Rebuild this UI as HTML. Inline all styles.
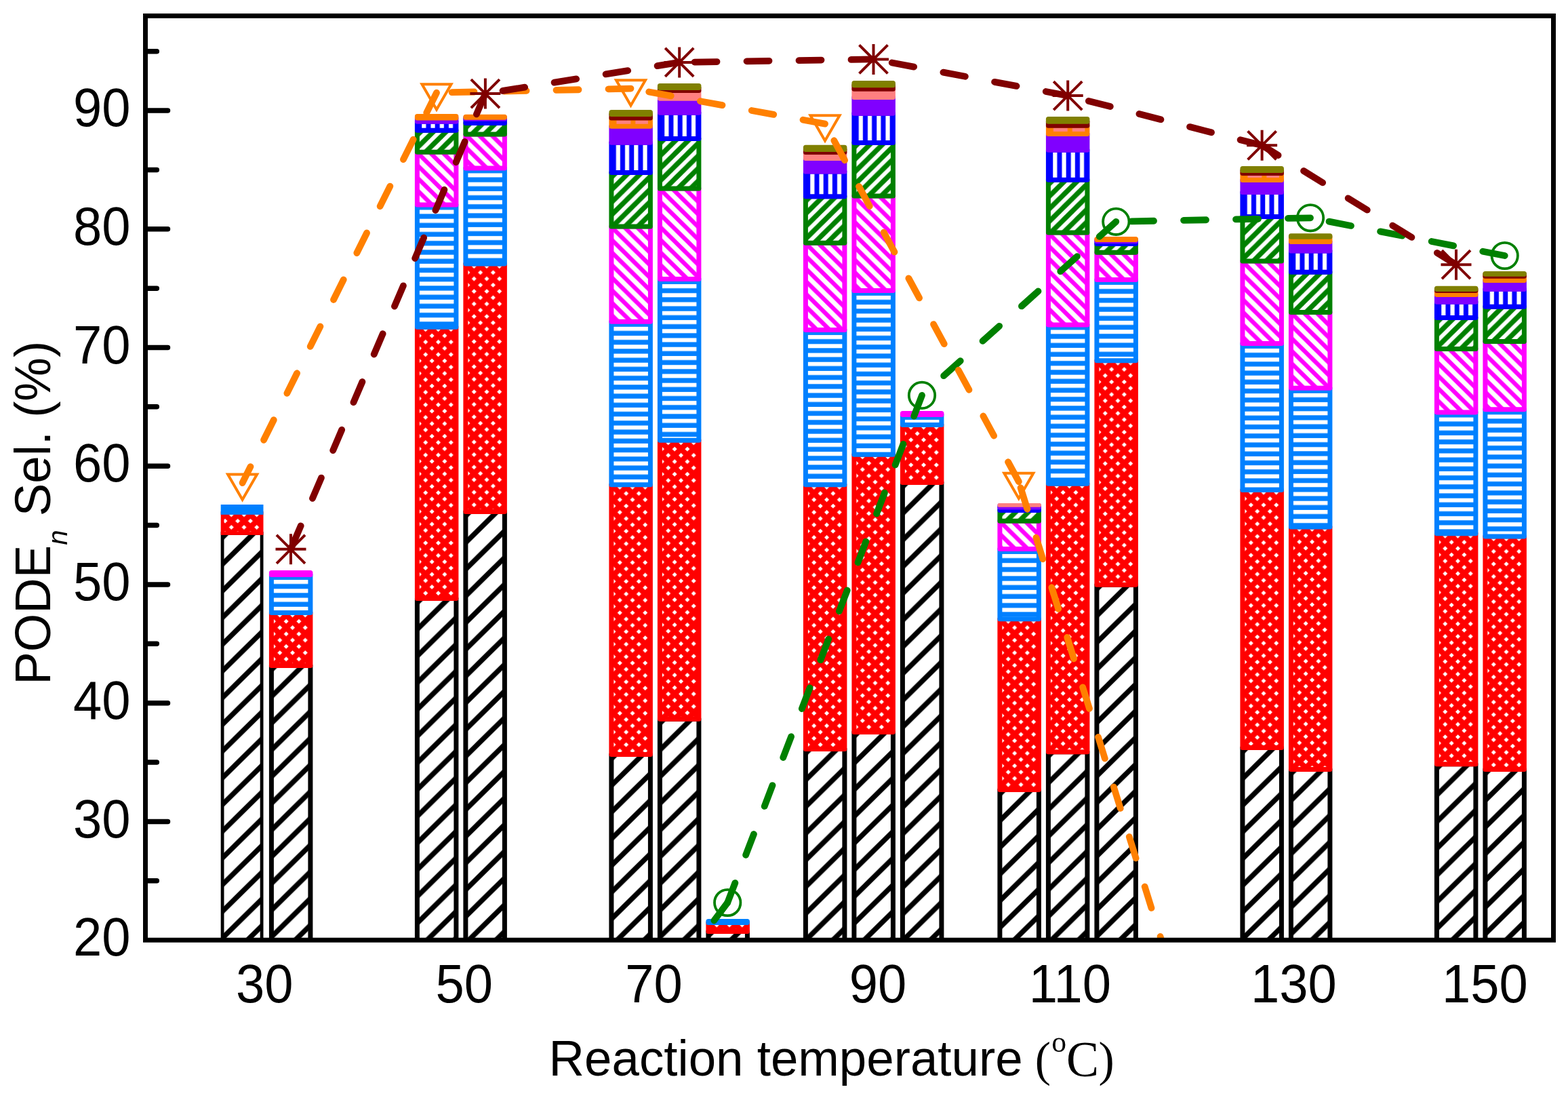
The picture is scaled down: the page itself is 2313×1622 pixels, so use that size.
<!DOCTYPE html>
<html lang="en">
<head>
<meta charset="utf-8">
<title>PODEn selectivity vs reaction temperature</title>
<style>
html,body{margin:0;padding:0;background:#fff}
svg{display:block}
</style>
</head>
<body>
<svg width="2313" height="1622" viewBox="0 0 2313 1622">
<rect width="2313" height="1622" fill="#fff"/>
<defs>
<pattern id="pblack" patternUnits="userSpaceOnUse" width="40" height="39.38"><rect width="40" height="39.38" fill="#fff"/><line x1="6.4" y1="-39.38" x2="-113.6" y2="78.76" stroke="#000000" stroke-width="7.5"/><line x1="46.4" y1="-39.38" x2="-73.6" y2="78.76" stroke="#000000" stroke-width="7.5"/><line x1="86.4" y1="-39.38" x2="-33.6" y2="78.76" stroke="#000000" stroke-width="7.5"/><line x1="126.4" y1="-39.38" x2="6.4" y2="78.76" stroke="#000000" stroke-width="7.5"/></pattern>
<pattern id="pred" patternUnits="userSpaceOnUse" width="18.73" height="18.52"><rect width="18.73" height="18.52" fill="#fff"/><line x1="6.65" y1="-18.52" x2="-49.54" y2="37.04" stroke="#FF0000" stroke-width="8.2"/><line x1="25.38" y1="-18.52" x2="-30.81" y2="37.04" stroke="#FF0000" stroke-width="8.2"/><line x1="44.11" y1="-18.52" x2="-12.08" y2="37.04" stroke="#FF0000" stroke-width="8.2"/><line x1="62.84" y1="-18.52" x2="6.65" y2="37.04" stroke="#FF0000" stroke-width="8.2"/><line x1="-38.02" y1="-18.52" x2="18.17" y2="37.04" stroke="#FF0000" stroke-width="8.2"/><line x1="-19.29" y1="-18.52" x2="36.9" y2="37.04" stroke="#FF0000" stroke-width="8.2"/><line x1="-0.56" y1="-18.52" x2="55.63" y2="37.04" stroke="#FF0000" stroke-width="8.2"/><line x1="18.17" y1="-18.52" x2="74.36" y2="37.04" stroke="#FF0000" stroke-width="8.2"/></pattern>
<pattern id="plblue" patternUnits="userSpaceOnUse" width="13.24" height="13.24"><rect width="13.24" height="13.24" fill="#fff"/><rect x="0" y="-12.94" width="13.24" height="7.2" fill="#0080FF"/><rect x="0" y="0.3" width="13.24" height="7.2" fill="#0080FF"/><rect x="0" y="13.54" width="13.24" height="7.2" fill="#0080FF"/></pattern>
<pattern id="pmagenta" patternUnits="userSpaceOnUse" width="18.73" height="18.52"><rect width="18.73" height="18.52" fill="#fff"/><line x1="-38.02" y1="-18.52" x2="18.17" y2="37.04" stroke="#FF00FF" stroke-width="6.3"/><line x1="-19.29" y1="-18.52" x2="36.9" y2="37.04" stroke="#FF00FF" stroke-width="6.3"/><line x1="-0.56" y1="-18.52" x2="55.63" y2="37.04" stroke="#FF00FF" stroke-width="6.3"/><line x1="18.17" y1="-18.52" x2="74.36" y2="37.04" stroke="#FF00FF" stroke-width="6.3"/></pattern>
<pattern id="pgreen" patternUnits="userSpaceOnUse" width="18.73" height="18.52"><rect width="18.73" height="18.52" fill="#fff"/><line x1="7.12" y1="-18.52" x2="-49.07" y2="37.04" stroke="#008000" stroke-width="7.4"/><line x1="25.85" y1="-18.52" x2="-30.34" y2="37.04" stroke="#008000" stroke-width="7.4"/><line x1="44.58" y1="-18.52" x2="-11.61" y2="37.04" stroke="#008000" stroke-width="7.4"/><line x1="63.31" y1="-18.52" x2="7.12" y2="37.04" stroke="#008000" stroke-width="7.4"/></pattern>
<pattern id="pblue" patternUnits="userSpaceOnUse" width="13.24" height="13.24"><rect width="13.24" height="13.24" fill="#fff"/><rect y="0" x="-13.49" height="13.24" width="7.1" fill="#0000FF"/><rect y="0" x="-0.25" height="13.24" width="7.1" fill="#0000FF"/><rect y="0" x="12.99" height="13.24" width="7.1" fill="#0000FF"/></pattern>
<pattern id="porange" patternUnits="userSpaceOnUse" width="27.9" height="27.9"><rect width="27.9" height="27.9" fill="#FF8080"/><rect y="0" x="-27.4" height="27.9" width="7" fill="#FF8000"/><rect y="0" x="0.5" height="27.9" width="7" fill="#FF8000"/><rect y="0" x="28.4" height="27.9" width="7" fill="#FF8000"/></pattern>
<clipPath id="cf"><rect x="214.5" y="23.4" width="2077" height="1362.8"/></clipPath>
</defs>
<g clip-path="url(#cf)" stroke-width="7" stroke-linejoin="round">
<g transform="translate(328.9,785.4)"><rect x="-0.8" y="1.1" width="58" height="659.7" fill="url(#pblack)" stroke="#000000" stroke-width="4.8" stroke-linejoin="miter"/></g>
<g transform="translate(328.9,755.4)"><rect x="-0.8" y="1.1" width="58" height="30" fill="url(#pred)" stroke="#FF0000" stroke-width="4.8" stroke-linejoin="miter"/></g>
<g transform="translate(328.9,747.5)"><rect x="-0.8" y="-1.1" width="58" height="10.1" fill="#0080FF" stroke="#0080FF" stroke-width="4.8" stroke-linejoin="miter"/></g>
<g transform="translate(400.4,981.4)"><rect width="57.5" height="464.8" fill="url(#pblack)" stroke="#000000"/></g>
<g transform="translate(400.4,903.4)"><rect width="57.5" height="78" fill="url(#pred)" stroke="#FF0000"/></g>
<g transform="translate(400.4,847.5)"><rect width="57.5" height="55.9" fill="url(#plblue)" stroke="#0080FF"/></g>
<g transform="translate(400.4,844.5)"><rect width="57.5" height="3" fill="#FF00FF" stroke="#FF00FF"/></g>
<g transform="translate(615.4,882.4)"><rect width="57.5" height="563.8" fill="url(#pblack)" stroke="#000000"/></g>
<g transform="translate(615.4,482.2)"><rect width="57.5" height="400.2" fill="url(#pred)" stroke="#FF0000"/></g>
<g transform="translate(615.4,301.9)"><rect width="57.5" height="180.3" fill="url(#plblue)" stroke="#0080FF"/></g>
<g transform="translate(615.4,224.3)"><rect width="57.5" height="77.6" fill="url(#pmagenta)" stroke="#FF00FF"/></g>
<g transform="translate(615.4,192.3)"><rect width="57.5" height="32" fill="url(#pgreen)" stroke="#008000"/></g>
<g transform="translate(615.4,179.2)"><rect width="57.5" height="13.1" fill="url(#pblue)" stroke="#0000FF"/></g>
<g transform="translate(615.4,174)"><rect width="57.5" height="5.2" fill="#8000FF" stroke="#8000FF"/></g>
<g transform="translate(615.4,171.4)"><rect width="57.5" height="2.6" fill="#FF8000" stroke="#FF8000"/></g>
<g transform="translate(686.9,754.4)"><rect width="57.5" height="691.8" fill="url(#pblack)" stroke="#000000"/></g>
<g transform="translate(686.9,389)"><rect width="57.5" height="365.4" fill="url(#pred)" stroke="#FF0000"/></g>
<g transform="translate(686.9,247.9)"><rect width="57.5" height="141.1" fill="url(#plblue)" stroke="#0080FF"/></g>
<g transform="translate(686.9,198)"><rect width="57.5" height="49.9" fill="url(#pmagenta)" stroke="#FF00FF"/></g>
<g transform="translate(686.9,181.4)"><rect width="57.5" height="16.6" fill="url(#pgreen)" stroke="#008000"/></g>
<g transform="translate(686.9,175.3)"><rect width="57.5" height="6.1" fill="url(#pblue)" stroke="#0000FF"/></g>
<g transform="translate(686.9,173.2)"><rect width="57.5" height="2.1" fill="#8000FF" stroke="#8000FF"/></g>
<g transform="translate(686.9,172.3)"><rect width="57.5" height="0.9" fill="#FF8000" stroke="#FF8000"/></g>
<g transform="translate(901.9,1112.5)"><rect width="57.5" height="333.7" fill="url(#pblack)" stroke="#000000"/></g>
<g transform="translate(901.9,714.8)"><rect width="57.5" height="397.7" fill="url(#pred)" stroke="#FF0000"/></g>
<g transform="translate(901.9,474.3)"><rect width="57.5" height="240.5" fill="url(#plblue)" stroke="#0080FF"/></g>
<g transform="translate(901.9,334.1)"><rect width="57.5" height="140.2" fill="url(#pmagenta)" stroke="#FF00FF"/></g>
<g transform="translate(901.9,254.4)"><rect width="57.5" height="79.7" fill="url(#pgreen)" stroke="#008000"/></g>
<g transform="translate(901.9,210.2)"><rect width="57.5" height="44.2" fill="url(#pblue)" stroke="#0000FF"/></g>
<g transform="translate(901.9,186.2)"><rect width="57.5" height="24" fill="#8000FF" stroke="#8000FF"/></g>
<g transform="translate(901.9,174)"><rect width="57.5" height="12.2" fill="url(#porange)" stroke="#FF8000"/></g>
<g transform="translate(901.9,168.4)"><rect width="57.5" height="5.6" fill="#800000" stroke="#800000"/></g>
<g transform="translate(901.9,165.5)"><rect width="57.5" height="2.9" fill="#808000" stroke="#808000"/></g>
<g transform="translate(973.4,1060.3)"><rect width="57.5" height="385.9" fill="url(#pblack)" stroke="#000000"/></g>
<g transform="translate(973.4,649.3)"><rect width="57.5" height="411" fill="url(#pred)" stroke="#FF0000"/></g>
<g transform="translate(973.4,411.5)"><rect width="57.5" height="237.8" fill="url(#plblue)" stroke="#0080FF"/></g>
<g transform="translate(973.4,278.1)"><rect width="57.5" height="133.4" fill="url(#pmagenta)" stroke="#FF00FF"/></g>
<g transform="translate(973.4,204.5)"><rect width="57.5" height="73.6" fill="url(#pgreen)" stroke="#008000"/></g>
<g transform="translate(973.4,166.2)"><rect width="57.5" height="38.3" fill="url(#pblue)" stroke="#0000FF"/></g>
<g transform="translate(973.4,145.3)"><rect width="57.5" height="20.9" fill="#8000FF" stroke="#8000FF"/></g>
<g transform="translate(973.4,133.5)"><rect width="57.5" height="11.8" fill="#FF8080" stroke="#FF8080"/></g>
<g transform="translate(973.4,129.6)"><rect width="57.5" height="3.9" fill="#800000" stroke="#800000"/></g>
<g transform="translate(973.4,126.6)"><rect width="57.5" height="3" fill="#808000" stroke="#808000"/></g>
<g transform="translate(1044.9,1373.5)"><rect width="57.5" height="72.7" fill="url(#pblack)" stroke="#000000"/></g>
<g transform="translate(1044.9,1360.4)"><rect width="57.5" height="13.1" fill="url(#pred)" stroke="#FF0000"/></g>
<g transform="translate(1044.9,1358.4)"><rect width="57.5" height="2" fill="#0080FF" stroke="#0080FF"/></g>
<g transform="translate(1188.4,1104.5)"><rect width="57.5" height="341.7" fill="url(#pblack)" stroke="#000000"/></g>
<g transform="translate(1188.4,714.8)"><rect width="57.5" height="389.7" fill="url(#pred)" stroke="#FF0000"/></g>
<g transform="translate(1188.4,486.5)"><rect width="57.5" height="228.3" fill="url(#plblue)" stroke="#0080FF"/></g>
<g transform="translate(1188.4,358.3)"><rect width="57.5" height="128.2" fill="url(#pmagenta)" stroke="#FF00FF"/></g>
<g transform="translate(1188.4,289.7)"><rect width="57.5" height="68.6" fill="url(#pgreen)" stroke="#008000"/></g>
<g transform="translate(1188.4,253.1)"><rect width="57.5" height="36.6" fill="url(#pblue)" stroke="#0000FF"/></g>
<g transform="translate(1188.4,233.5)"><rect width="57.5" height="19.6" fill="#8000FF" stroke="#8000FF"/></g>
<g transform="translate(1188.4,224.4)"><rect width="57.5" height="9.1" fill="#FF8080" stroke="#FF8080"/></g>
<g transform="translate(1188.4,220.4)"><rect width="57.5" height="4" fill="#800000" stroke="#800000"/></g>
<g transform="translate(1188.4,217.35)"><rect width="57.5" height="3.05" fill="#808000" stroke="#808000"/></g>
<g transform="translate(1259.9,1079.5)"><rect width="57.5" height="366.7" fill="url(#pblack)" stroke="#000000"/></g>
<g transform="translate(1259.9,670.2)"><rect width="57.5" height="409.3" fill="url(#pred)" stroke="#FF0000"/></g>
<g transform="translate(1259.9,428.4)"><rect width="57.5" height="241.8" fill="url(#plblue)" stroke="#0080FF"/></g>
<g transform="translate(1259.9,289)"><rect width="57.5" height="139.4" fill="url(#pmagenta)" stroke="#FF00FF"/></g>
<g transform="translate(1259.9,210.4)"><rect width="57.5" height="78.6" fill="url(#pgreen)" stroke="#008000"/></g>
<g transform="translate(1259.9,167.2)"><rect width="57.5" height="43.2" fill="url(#pblue)" stroke="#0000FF"/></g>
<g transform="translate(1259.9,143.5)"><rect width="57.5" height="23.7" fill="#8000FF" stroke="#8000FF"/></g>
<g transform="translate(1259.9,131.3)"><rect width="57.5" height="12.2" fill="#FF8080" stroke="#FF8080"/></g>
<g transform="translate(1259.9,125.7)"><rect width="57.5" height="5.6" fill="#800000" stroke="#800000"/></g>
<g transform="translate(1259.9,122.5)"><rect width="57.5" height="3.2" fill="#808000" stroke="#808000"/></g>
<g transform="translate(1331.4,711.5)"><rect width="57.5" height="734.7" fill="url(#pblack)" stroke="#000000"/></g>
<g transform="translate(1331.4,626.5)"><rect width="57.5" height="85" fill="url(#pred)" stroke="#FF0000"/></g>
<g transform="translate(1331.4,611.5)"><rect width="57.5" height="15" fill="url(#plblue)" stroke="#0080FF"/></g>
<g transform="translate(1331.4,609.5)"><rect width="57.5" height="2" fill="#FF00FF" stroke="#FF00FF"/></g>
<g transform="translate(1474.9,1164.5)"><rect width="57.5" height="281.7" fill="url(#pblack)" stroke="#000000"/></g>
<g transform="translate(1474.9,912.7)"><rect width="57.5" height="251.8" fill="url(#pred)" stroke="#FF0000"/></g>
<g transform="translate(1474.9,809.4)"><rect width="57.5" height="103.3" fill="url(#plblue)" stroke="#0080FF"/></g>
<g transform="translate(1474.9,768.2)"><rect width="57.5" height="41.2" fill="url(#pmagenta)" stroke="#FF00FF"/></g>
<g transform="translate(1474.9,752.5)"><rect width="57.5" height="15.7" fill="url(#pgreen)" stroke="#008000"/></g>
<g transform="translate(1474.9,748)"><rect width="57.5" height="4.5" fill="url(#pblue)" stroke="#0000FF"/></g>
<g transform="translate(1474.9,745.6)"><rect width="57.5" height="2.4" fill="#8000FF" stroke="#8000FF"/></g>
<g transform="translate(1474.9,744.95)"><rect x="-0.65" width="58.8" height="0.01" fill="#FF8080" stroke="#FF8080" stroke-width="5.7"/></g>
<g transform="translate(1546.4,1108.7)"><rect width="57.5" height="337.5" fill="url(#pblack)" stroke="#000000"/></g>
<g transform="translate(1546.4,713.3)"><rect width="57.5" height="395.4" fill="url(#pred)" stroke="#FF0000"/></g>
<g transform="translate(1546.4,478.9)"><rect width="57.5" height="234.4" fill="url(#plblue)" stroke="#0080FF"/></g>
<g transform="translate(1546.4,343)"><rect width="57.5" height="135.9" fill="url(#pmagenta)" stroke="#FF00FF"/></g>
<g transform="translate(1546.4,265.3)"><rect width="57.5" height="77.7" fill="url(#pgreen)" stroke="#008000"/></g>
<g transform="translate(1546.4,221.2)"><rect width="57.5" height="44.1" fill="url(#pblue)" stroke="#0000FF"/></g>
<g transform="translate(1546.4,197.5)"><rect width="57.5" height="23.7" fill="#8000FF" stroke="#8000FF"/></g>
<g transform="translate(1546.4,185.3)"><rect width="57.5" height="12.2" fill="url(#porange)" stroke="#FF8000"/></g>
<g transform="translate(1546.4,179.2)"><rect width="57.5" height="6.1" fill="#800000" stroke="#800000"/></g>
<g transform="translate(1546.4,175.6)"><rect width="57.5" height="3.6" fill="#808000" stroke="#808000"/></g>
<g transform="translate(1617.9,862.3)"><rect width="57.5" height="583.9" fill="url(#pblack)" stroke="#000000"/></g>
<g transform="translate(1617.9,531.8)"><rect width="57.5" height="330.5" fill="url(#pred)" stroke="#FF0000"/></g>
<g transform="translate(1617.9,412.5)"><rect width="57.5" height="119.3" fill="url(#plblue)" stroke="#0080FF"/></g>
<g transform="translate(1617.9,372.3)"><rect width="57.5" height="40.2" fill="url(#pmagenta)" stroke="#FF00FF"/></g>
<g transform="translate(1617.9,359.5)"><rect width="57.5" height="12.8" fill="url(#pgreen)" stroke="#008000"/></g>
<g transform="translate(1617.9,355.8)"><rect width="57.5" height="3.7" fill="url(#pblue)" stroke="#0000FF"/></g>
<g transform="translate(1617.9,353.6)"><rect width="57.5" height="2.2" fill="#8000FF" stroke="#8000FF"/></g>
<g transform="translate(1617.9,352.6)"><rect width="57.5" height="1" fill="#FF8000" stroke="#FF8000"/></g>
<g transform="translate(1832.9,1102.4)"><rect width="57.5" height="343.8" fill="url(#pblack)" stroke="#000000"/></g>
<g transform="translate(1832.9,722.6)"><rect width="57.5" height="379.8" fill="url(#pred)" stroke="#FF0000"/></g>
<g transform="translate(1832.9,506.5)"><rect width="57.5" height="216.1" fill="url(#plblue)" stroke="#0080FF"/></g>
<g transform="translate(1832.9,385.1)"><rect width="57.5" height="121.4" fill="url(#pmagenta)" stroke="#FF00FF"/></g>
<g transform="translate(1832.9,319.5)"><rect width="57.5" height="65.6" fill="url(#pgreen)" stroke="#008000"/></g>
<g transform="translate(1832.9,283.5)"><rect width="57.5" height="36" fill="url(#pblue)" stroke="#0000FF"/></g>
<g transform="translate(1832.9,265.5)"><rect width="57.5" height="18" fill="#8000FF" stroke="#8000FF"/></g>
<g transform="translate(1832.9,255.4)"><rect width="57.5" height="10.1" fill="url(#porange)" stroke="#FF8000"/></g>
<g transform="translate(1832.9,251.4)"><rect width="57.5" height="4" fill="#800000" stroke="#800000"/></g>
<g transform="translate(1832.9,248.4)"><rect width="57.5" height="3" fill="#808000" stroke="#808000"/></g>
<g transform="translate(1904.4,1134.5)"><rect width="57.5" height="311.7" fill="url(#pblack)" stroke="#000000"/></g>
<g transform="translate(1904.4,776.9)"><rect width="57.5" height="357.6" fill="url(#pred)" stroke="#FF0000"/></g>
<g transform="translate(1904.4,572.3)"><rect width="57.5" height="204.6" fill="url(#plblue)" stroke="#0080FF"/></g>
<g transform="translate(1904.4,460.4)"><rect width="57.5" height="111.9" fill="url(#pmagenta)" stroke="#FF00FF"/></g>
<g transform="translate(1904.4,401.2)"><rect width="57.5" height="59.2" fill="url(#pgreen)" stroke="#008000"/></g>
<g transform="translate(1904.4,370.1)"><rect width="57.5" height="31.1" fill="url(#pblue)" stroke="#0000FF"/></g>
<g transform="translate(1904.4,356.4)"><rect width="57.5" height="13.7" fill="#8000FF" stroke="#8000FF"/></g>
<g transform="translate(1904.4,349.2)"><rect width="57.5" height="7.2" fill="#FF8000" stroke="#FF8000"/></g>
<g transform="translate(1904.4,347.7)"><rect width="57.5" height="1.5" fill="#808000" stroke="#808000"/></g>
<g transform="translate(2119.4,1126.8)"><rect width="57.5" height="319.4" fill="url(#pblack)" stroke="#000000"/></g>
<g transform="translate(2119.4,786.7)"><rect width="57.5" height="340.1" fill="url(#pred)" stroke="#FF0000"/></g>
<g transform="translate(2119.4,608)"><rect width="57.5" height="178.7" fill="url(#plblue)" stroke="#0080FF"/></g>
<g transform="translate(2119.4,514.5)"><rect width="57.5" height="93.5" fill="url(#pmagenta)" stroke="#FF00FF"/></g>
<g transform="translate(2119.4,468.4)"><rect width="57.5" height="46.1" fill="url(#pgreen)" stroke="#008000"/></g>
<g transform="translate(2119.4,445.3)"><rect width="57.5" height="23.1" fill="url(#pblue)" stroke="#0000FF"/></g>
<g transform="translate(2119.4,434.5)"><rect width="57.5" height="10.8" fill="#8000FF" stroke="#8000FF"/></g>
<g transform="translate(2119.4,428.5)"><rect width="57.5" height="6" fill="#FF8000" stroke="#FF8000"/></g>
<g transform="translate(2119.4,426.5)"><rect width="57.5" height="2" fill="#800000" stroke="#800000"/></g>
<g transform="translate(2119.4,425.3)"><rect width="57.5" height="1.2" fill="#808000" stroke="#808000"/></g>
<g transform="translate(2190.9,1134.5)"><rect width="57.5" height="311.7" fill="url(#pblack)" stroke="#000000"/></g>
<g transform="translate(2190.9,791)"><rect width="57.5" height="343.5" fill="url(#pred)" stroke="#FF0000"/></g>
<g transform="translate(2190.9,603.8)"><rect width="57.5" height="187.2" fill="url(#plblue)" stroke="#0080FF"/></g>
<g transform="translate(2190.9,503.4)"><rect width="57.5" height="100.4" fill="url(#pmagenta)" stroke="#FF00FF"/></g>
<g transform="translate(2190.9,452.2)"><rect width="57.5" height="51.2" fill="url(#pgreen)" stroke="#008000"/></g>
<g transform="translate(2190.9,426.4)"><rect width="57.5" height="25.8" fill="url(#pblue)" stroke="#0000FF"/></g>
<g transform="translate(2190.9,413.4)"><rect width="57.5" height="13" fill="#8000FF" stroke="#8000FF"/></g>
<g transform="translate(2190.9,407.2)"><rect width="57.5" height="6.2" fill="#FF8000" stroke="#FF8000"/></g>
<g transform="translate(2190.9,404.3)"><rect width="57.5" height="2.9" fill="#800000" stroke="#800000"/></g>
<g transform="translate(2190.9,403.6)"><rect width="57.5" height="0.7" fill="#808000" stroke="#808000"/></g>
</g>
<g clip-path="url(#cf)">
<g stroke="#008000" stroke-width="9.8" stroke-linecap="round" stroke-dasharray="33 44" fill="none"><line x1="1073.2" y1="1331" x2="786.5" y2="1712"/><line x1="1360" y1="582.9" x2="1073.2" y2="1331"/><line x1="1646.3" y1="326.8" x2="1360" y2="582.9"/><line x1="1933" y1="321.3" x2="1646.3" y2="326.8"/><line x1="2219.7" y1="377" x2="1933" y2="321.3"/></g>
<circle cx="1073.2" cy="1331" r="19.2" fill="none" stroke="#008000" stroke-width="3.8"/>
<circle cx="1360" cy="582.9" r="19.2" fill="none" stroke="#008000" stroke-width="3.8"/>
<circle cx="1646.3" cy="326.8" r="19.2" fill="none" stroke="#008000" stroke-width="3.8"/>
<circle cx="1933" cy="321.3" r="19.2" fill="none" stroke="#008000" stroke-width="3.8"/>
<circle cx="2219.7" cy="377" r="19.2" fill="none" stroke="#008000" stroke-width="3.8"/>
<g stroke="#FF8000" stroke-width="9.8" stroke-linecap="round" stroke-dasharray="33 44" fill="none"><line x1="644" y1="136.7" x2="357.6" y2="712"/><line x1="930.5" y1="130.6" x2="644" y2="136.7"/><line x1="1217" y1="182.6" x2="930.5" y2="130.6"/><line x1="1502.8" y1="710.2" x2="1217" y2="182.6"/><line x1="1790" y1="1633" x2="1502.8" y2="710.2"/></g>
<polygon points="336.07,699.57 379.13,699.57 357.6,736.86" fill="none" stroke="#FF8000" stroke-width="4" stroke-linejoin="miter"/>
<polygon points="622.47,124.27 665.53,124.27 644,161.56" fill="none" stroke="#FF8000" stroke-width="4" stroke-linejoin="miter"/>
<polygon points="908.97,118.17 952.03,118.17 930.5,155.46" fill="none" stroke="#FF8000" stroke-width="4" stroke-linejoin="miter"/>
<polygon points="1195.47,170.17 1238.53,170.17 1217,207.46" fill="none" stroke="#FF8000" stroke-width="4" stroke-linejoin="miter"/>
<polygon points="1481.27,697.77 1524.33,697.77 1502.8,735.06" fill="none" stroke="#FF8000" stroke-width="4" stroke-linejoin="miter"/>
<g stroke="#800000" stroke-width="9.8" stroke-linecap="round" stroke-dasharray="33 44" fill="none"><line x1="715.9" y1="138.1" x2="429" y2="809.8"/><line x1="1002.2" y1="91.9" x2="715.9" y2="138.1"/><line x1="1288.5" y1="87.4" x2="1002.2" y2="91.9"/><line x1="1575.2" y1="141.1" x2="1288.5" y2="87.4"/><line x1="1861.6" y1="214.3" x2="1575.2" y2="141.1"/><line x1="2148" y1="390.2" x2="1861.6" y2="214.3"/></g>
<path d="M406.5 809.8H451.5M429 787.3V832.3M408 788.8L450 830.8M408 830.8L450 788.8" fill="none" stroke="#800000" stroke-width="4"/>
<path d="M693.4 138.1H738.4M715.9 115.6V160.6M694.9 117.1L736.9 159.1M694.9 159.1L736.9 117.1" fill="none" stroke="#800000" stroke-width="4"/>
<path d="M979.7 91.9H1024.7M1002.2 69.4V114.4M981.2 70.9L1023.2 112.9M981.2 112.9L1023.2 70.9" fill="none" stroke="#800000" stroke-width="4"/>
<path d="M1266 87.4H1311M1288.5 64.9V109.9M1267.5 66.4L1309.5 108.4M1267.5 108.4L1309.5 66.4" fill="none" stroke="#800000" stroke-width="4"/>
<path d="M1552.7 141.1H1597.7M1575.2 118.6V163.6M1554.2 120.1L1596.2 162.1M1554.2 162.1L1596.2 120.1" fill="none" stroke="#800000" stroke-width="4"/>
<path d="M1839.1 214.3H1884.1M1861.6 191.8V236.8M1840.6 193.3L1882.6 235.3M1840.6 235.3L1882.6 193.3" fill="none" stroke="#800000" stroke-width="4"/>
<path d="M2125.5 390.2H2170.5M2148 367.7V412.7M2127 369.2L2169 411.2M2127 411.2L2169 369.2" fill="none" stroke="#800000" stroke-width="4"/>
</g>
<rect x="214.5" y="23.4" width="2077" height="1362.8" fill="none" stroke="#000" stroke-width="7"/>
<path d="M215.5 1298.83H231.3M215.5 1211.46H247.5M215.5 1124.09H231.3M215.5 1036.72H247.5M215.5 949.35H231.3M215.5 861.98H247.5M215.5 774.61H231.3M215.5 687.24H247.5M215.5 599.87H231.3M215.5 512.5H247.5M215.5 425.13H231.3M215.5 337.76H247.5M215.5 250.39H231.3M215.5 163.02H247.5M215.5 75.65H231.3" stroke="#000" stroke-width="7.5" stroke-linecap="round" fill="none"/>
<g font-family="'Liberation Sans', sans-serif" fill="#000">
<text transform="translate(192.6,1409.4) scale(1,1.04)" font-size="76" text-anchor="end">20</text>
<text transform="translate(192.6,1234.66) scale(1,1.04)" font-size="76" text-anchor="end">30</text>
<text transform="translate(192.6,1059.92) scale(1,1.04)" font-size="76" text-anchor="end">40</text>
<text transform="translate(192.6,885.18) scale(1,1.04)" font-size="76" text-anchor="end">50</text>
<text transform="translate(192.6,710.44) scale(1,1.04)" font-size="76" text-anchor="end">60</text>
<text transform="translate(192.6,535.7) scale(1,1.04)" font-size="76" text-anchor="end">70</text>
<text transform="translate(192.6,360.96) scale(1,1.04)" font-size="76" text-anchor="end">80</text>
<text transform="translate(192.6,186.22) scale(1,1.04)" font-size="76" text-anchor="end">90</text>
<text transform="translate(390.2,1477.9) scale(1,1.04)" font-size="76" text-anchor="middle">30</text>
<text transform="translate(684.8,1477.9) scale(1,1.04)" font-size="76" text-anchor="middle">50</text>
<text transform="translate(964.4,1477.9) scale(1,1.04)" font-size="76" text-anchor="middle">70</text>
<text transform="translate(1295,1477.9) scale(1,1.04)" font-size="76" text-anchor="middle">90</text>
<text transform="translate(1578.4,1477.9) scale(1,1.04)" font-size="76" text-anchor="middle">110</text>
<text transform="translate(1908.4,1477.9) scale(1,1.04)" font-size="76" text-anchor="middle">130</text>
<text transform="translate(2190.4,1477.9) scale(1,1.04)" font-size="76" text-anchor="middle">150</text>
<text transform="translate(809.6,1586.2) scale(1,1.02)" font-size="72.7">Reaction temperature</text>
<text transform="translate(1526.8,1586) scale(0.97,1)" font-family="'Liberation Serif', serif" font-size="72">(<tspan x="25.2" y="-35" font-size="45">o</tspan><tspan x="47.6" y="0.6" font-size="74.3">C</tspan><tspan x="96.7" y="0" font-size="72">)</tspan></text>
<text transform="translate(74.1,1009.7) rotate(-90) scale(1,1.03)" font-size="72.7">PODE<tspan font-size="40" font-style="italic" dy="24">n</tspan><tspan dy="-24"> Sel. (%)</tspan></text>
</g>
</svg>
</body>
</html>
